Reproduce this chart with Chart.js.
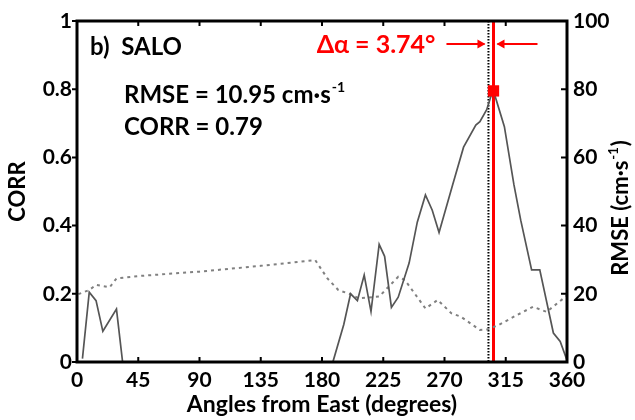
<!DOCTYPE html>
<html>
<head>
<meta charset="utf-8">
<script src="https://cdn.jsdelivr.net/npm/chart.js@4.4.0/dist/chart.umd.min.js"></script>
<style>
body{margin:0;background:#fff;}
</style>
</head>
<body>
<canvas id="myChart" width="635" height="420"></canvas>
<script>
// values (angles in degrees from East)
var corrAngles = [4, 9, 14, 19, 29, 33.5, 40, 180, 188, 196, 201, 206, 211, 216, 222, 226, 231, 236, 244, 250, 256, 261, 266, 276, 284, 293, 296, 301, 304, 306, 314, 321, 326, 334, 340, 350, 355, 360];
var corrValues = [0.01, 0.205, 0.18, 0.09, 0.155, 0, -0.3, -0.3, 0, 0.11, 0.2, 0.18, 0.255, 0.148, 0.345, 0.31, 0.16, 0.19, 0.29, 0.41, 0.49, 0.445, 0.38, 0.52, 0.63, 0.695, 0.705, 0.74, 0.778, 0.795, 0.69, 0.52, 0.416, 0.27, 0.27, 0.085, 0.06, 0.005];
var rmseAngles = [1, 9, 14, 24, 29, 45, 90, 135, 175, 184, 192, 200, 207, 222, 236, 241, 256, 265, 275, 282, 296, 302, 310, 322, 335, 345, 360];
var rmseValues = [19.9, 21.1, 22.6, 21.9, 24.5, 25.2, 26.5, 28.2, 29.9, 24.5, 21.1, 20, 18.7, 19.2, 25, 24, 15.7, 18.2, 14.3, 13.3, 9.4, 9.6, 10.9, 13.5, 16.2, 14.7, 19.5];
var xTicks = [0, 45, 90, 135, 180, 225, 270, 315, 360];
var corrTicks = [0, 0.2, 0.4, 0.6, 0.8, 1];
var rmseTicks = [0, 20, 40, 60, 80, 100];
var refAngle = 302.3;   // dotted line
var bestAngle = 306.0;  // red line
var bestCorr = 0.795;

var FONT = 'Lato';

function pts(xs, ys){
  return xs.map(function(a, i){ return {x: a, y: ys[i]}; });
}
function fixTicks(list){
  return function(s){ s.ticks = list.map(function(v){ return {value: v}; }); };
}
function plain(v){ return String(v); }

// text with a "-1" exponent, drawn from x (left aligned, baseline middle)
function supText(c, x, y, main, tail, size){
  c.font = 'bold ' + size + 'px ' + FONT;
  c.fillText(main, x, y);
  var w = c.measureText(main).width;
  c.font = 'bold ' + Math.round(size * 0.58) + 'px ' + FONT;
  c.fillText('-1', x + w + 1, y - size * 0.32);
  var w2 = c.measureText('-1').width;
  if (tail) {
    c.font = 'bold ' + size + 'px ' + FONT;
    c.fillText(tail, x + w + w2 + 2, y);
  }
}

var overlay = {
  id: 'overlay',
  beforeDatasetsDraw: function(chart){
    var c = chart.ctx, a = chart.chartArea, x = chart.scales.x;
    var rx = x.getPixelForValue(refAngle), bx = x.getPixelForValue(bestAngle);
    c.save();
    c.strokeStyle = '#000';
    c.lineWidth = 2;
    c.setLineDash([1.5, 1.5]);
    c.beginPath(); c.moveTo(rx, a.top); c.lineTo(rx, a.bottom); c.stroke();
    c.setLineDash([]);
    c.strokeStyle = '#ff0000';
    c.lineWidth = 3;
    c.beginPath(); c.moveTo(bx, a.top); c.lineTo(bx, a.bottom); c.stroke();
    c.restore();
  },
  afterDraw: function(chart){
    var c = chart.ctx, a = chart.chartArea, x = chart.scales.x;
    var yl = chart.scales.y, yr = chart.scales.y1;
    var rx = x.getPixelForValue(refAngle), bx = x.getPixelForValue(bestAngle);
    c.save();
    // frame
    c.strokeStyle = '#000';
    c.lineWidth = 3;
    c.strokeRect(a.left, a.top, a.right - a.left, a.bottom - a.top);
    c.lineWidth = 2;
    c.beginPath();
    xTicks.forEach(function(v){
      var p = x.getPixelForValue(v);
      c.moveTo(p, a.bottom); c.lineTo(p, a.bottom - 5);
      c.moveTo(p, a.top); c.lineTo(p, a.top + 5);
    });
    corrTicks.forEach(function(v){
      var p = yl.getPixelForValue(v);
      c.moveTo(a.left, p); c.lineTo(a.left - 5, p);
    });
    rmseTicks.forEach(function(v){
      var p = yr.getPixelForValue(v);
      c.moveTo(a.right, p); c.lineTo(a.right - 6, p);
    });
    c.stroke();

    // text
    c.fillStyle = '#000';
    c.textBaseline = 'middle';
    c.textAlign = 'left';
    c.font = 'bold 24px ' + FONT;
    c.fillText('b)  SALO', a.left + 13, a.top + 26);
    supText(c, a.left + 47, a.top + 74, 'RMSE = 10.95 cm\u00b7s', '', 24);
    c.font = 'bold 24px ' + FONT;
    c.fillText('CORR = 0.79', a.left + 47, a.top + 106);

    // right axis title, reading bottom to top
    c.save();
    c.translate(621, (a.top + a.bottom) / 2 + 16);
    c.rotate(-Math.PI / 2);
    c.font = 'bold 22px ' + FONT;
    var m1 = c.measureText('RMSE (cm\u00b7s').width;
    var m3 = c.measureText(')').width;
    c.font = 'bold 13px ' + FONT;
    var m2 = c.measureText('-1').width;
    supText(c, -(m1 + m2 + m3 + 3) / 2, 0, 'RMSE (cm\u00b7s', ')', 22);
    c.restore();

    // delta alpha
    c.fillStyle = '#ff0000';
    c.strokeStyle = '#ff0000';
    c.font = 'bold 25px ' + FONT;
    c.textAlign = 'right';
    c.fillText('\u0394\u03b1 = 3.74\u00b0', rx - 53, a.top + 24);
    var ay = a.top + 23;
    c.lineWidth = 2;
    c.beginPath();
    c.moveTo(rx - 42, ay); c.lineTo(rx - 4, ay);
    c.moveTo(bx + 4, ay); c.lineTo(bx + 44, ay);
    c.stroke();
    c.beginPath();
    c.moveTo(rx - 3, ay); c.lineTo(rx - 11, ay - 4.5); c.lineTo(rx - 11, ay + 4.5); c.closePath();
    c.moveTo(bx + 3, ay); c.lineTo(bx + 11, ay - 4.5); c.lineTo(bx + 11, ay + 4.5); c.closePath();
    c.fill();
    c.restore();
  }
};

const ctx = document.getElementById('myChart');
new Chart(ctx, {
  type: 'line',
  data: {
    datasets: [{
      label: 'Max CORR',
      data: [{x: bestAngle, y: bestCorr}],
      yAxisID: 'y',
      showLine: false,
      pointStyle: 'rect',
      pointRadius: 8,
      pointBackgroundColor: '#ff0000',
      pointBorderWidth: 0
    }, {
      label: 'CORR',
      data: pts(corrAngles, corrValues),
      yAxisID: 'y',
      borderColor: '#555555',
      borderWidth: 1.7,
      pointRadius: 0,
      tension: 0
    }, {
      label: 'RMSE',
      data: pts(rmseAngles, rmseValues),
      yAxisID: 'y1',
      borderColor: '#808080',
      borderWidth: 2,
      borderDash: [3, 4],
      pointRadius: 0,
      tension: 0
    }]
  },
  options: {
    responsive: false,
    animation: false,
    devicePixelRatio: 1,
    layout: { padding: { top: 21, left: 0, right: 0, bottom: 0 } },
    plugins: { legend: { display: false }, tooltip: { enabled: false } },
    scales: {
      x: {
        type: 'linear',
        min: 0, max: 360,
        afterBuildTicks: fixTicks(xTicks),
        afterFit: function(s){ s.height = 58; s.paddingLeft = 0; s.paddingRight = 0; },
        grid: { display: false, drawTicks: false },
        border: { display: false },
        ticks: { color: '#000', padding: 6, callback: plain, font: { family: FONT, size: 21, weight: 'bold' }, maxRotation: 0 },
        title: { display: true, text: 'Angles from East (degrees)', color: '#000', padding: { top: 0, bottom: 2 }, font: { family: FONT, size: 23, weight: 'bold' } }
      },
      y: {
        position: 'left',
        min: 0, max: 1,
        afterBuildTicks: fixTicks(corrTicks),
        afterFit: function(s){ s.width = 77; s.paddingTop = 0; s.paddingBottom = 0; },
        grid: { display: false, drawTicks: false },
        border: { display: false },
        ticks: { color: '#000', padding: 5, callback: plain, font: { family: FONT, size: 21, weight: 'bold' } },
        title: { display: true, text: 'CORR', color: '#000', padding: { top: 5, bottom: 0 }, font: { family: FONT, size: 22, weight: 'bold' } }
      },
      y1: {
        position: 'right',
        min: 0, max: 100,
        afterBuildTicks: fixTicks(rmseTicks),
        afterFit: function(s){ s.width = 68; s.paddingTop = 0; s.paddingBottom = 0; },
        grid: { display: false, drawTicks: false },
        border: { display: false },
        ticks: { color: '#000', padding: 6, callback: plain, font: { family: FONT, size: 21, weight: 'bold' } },
        title: { display: false }
      }
    }
  },
  plugins: [overlay]
});
</script>
</body>
</html>
